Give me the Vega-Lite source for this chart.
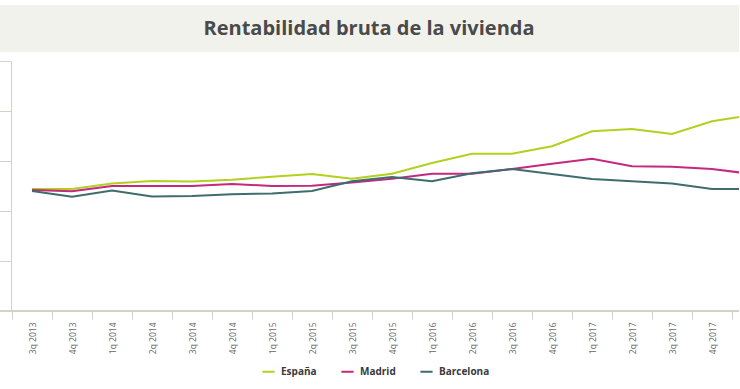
{
  "$schema": "https://vega.github.io/schema/vega-lite/v6.json",
  "background": "white",
  "padding": {"top": 5, "left": -5, "right": 0, "bottom": 0},
  "spacing": 8,
  "config": {"font": "Open Sans", "view": {"stroke": null}},
  "vconcat": [
    {
      "width": 740,
      "height": 47,
      "view": {"fill": "#f2f2ec", "stroke": null},
      "data": {"values": [{"title": "Rentabilidad bruta de la vivienda"}]},
      "mark": {"type": "text", "font": "Open Sans", "fontSize": 20, "fontWeight": "bold", "color": "#4a4a4a", "baseline": "middle", "align": "center"},
      "encoding": {"text": {"field": "title"}}
    },
    {
      "width": 740,
      "height": 250,
      "data": {"values": [
        {"quarter": "3q 2013", "region": "España", "value": 4.88},
        {"quarter": "4q 2013", "region": "España", "value": 4.88},
        {"quarter": "1q 2014", "region": "España", "value": 5.10},
        {"quarter": "2q 2014", "region": "España", "value": 5.20},
        {"quarter": "3q 2014", "region": "España", "value": 5.18},
        {"quarter": "4q 2014", "region": "España", "value": 5.25},
        {"quarter": "1q 2015", "region": "España", "value": 5.37},
        {"quarter": "2q 2015", "region": "España", "value": 5.48},
        {"quarter": "3q 2015", "region": "España", "value": 5.29},
        {"quarter": "4q 2015", "region": "España", "value": 5.49},
        {"quarter": "1q 2016", "region": "España", "value": 5.92},
        {"quarter": "2q 2016", "region": "España", "value": 6.29},
        {"quarter": "3q 2016", "region": "España", "value": 6.29},
        {"quarter": "4q 2016", "region": "España", "value": 6.59},
        {"quarter": "1q 2017", "region": "España", "value": 7.19},
        {"quarter": "2q 2017", "region": "España", "value": 7.28},
        {"quarter": "3q 2017", "region": "España", "value": 7.08},
        {"quarter": "4q 2017", "region": "España", "value": 7.59},
        {"quarter": "1q 2018", "region": "España", "value": 7.84},
        {"quarter": "3q 2013", "region": "Madrid", "value": 4.84},
        {"quarter": "4q 2013", "region": "Madrid", "value": 4.79},
        {"quarter": "1q 2014", "region": "Madrid", "value": 5.00},
        {"quarter": "2q 2014", "region": "Madrid", "value": 5.00},
        {"quarter": "3q 2014", "region": "Madrid", "value": 5.00},
        {"quarter": "4q 2014", "region": "Madrid", "value": 5.08},
        {"quarter": "1q 2015", "region": "Madrid", "value": 5.00},
        {"quarter": "2q 2015", "region": "Madrid", "value": 5.01},
        {"quarter": "3q 2015", "region": "Madrid", "value": 5.14},
        {"quarter": "4q 2015", "region": "Madrid", "value": 5.29},
        {"quarter": "1q 2016", "region": "Madrid", "value": 5.49},
        {"quarter": "2q 2016", "region": "Madrid", "value": 5.49},
        {"quarter": "3q 2016", "region": "Madrid", "value": 5.68},
        {"quarter": "4q 2016", "region": "Madrid", "value": 5.89},
        {"quarter": "1q 2017", "region": "Madrid", "value": 6.09},
        {"quarter": "2q 2017", "region": "Madrid", "value": 5.79},
        {"quarter": "3q 2017", "region": "Madrid", "value": 5.77},
        {"quarter": "4q 2017", "region": "Madrid", "value": 5.68},
        {"quarter": "1q 2018", "region": "Madrid", "value": 5.48},
        {"quarter": "3q 2013", "region": "Barcelona", "value": 4.80},
        {"quarter": "4q 2013", "region": "Barcelona", "value": 4.57},
        {"quarter": "1q 2014", "region": "Barcelona", "value": 4.82},
        {"quarter": "2q 2014", "region": "Barcelona", "value": 4.58},
        {"quarter": "3q 2014", "region": "Barcelona", "value": 4.60},
        {"quarter": "4q 2014", "region": "Barcelona", "value": 4.67},
        {"quarter": "1q 2015", "region": "Barcelona", "value": 4.70},
        {"quarter": "2q 2015", "region": "Barcelona", "value": 4.80},
        {"quarter": "3q 2015", "region": "Barcelona", "value": 5.19},
        {"quarter": "4q 2015", "region": "Barcelona", "value": 5.36},
        {"quarter": "1q 2016", "region": "Barcelona", "value": 5.19},
        {"quarter": "2q 2016", "region": "Barcelona", "value": 5.51},
        {"quarter": "3q 2016", "region": "Barcelona", "value": 5.68},
        {"quarter": "4q 2016", "region": "Barcelona", "value": 5.48},
        {"quarter": "1q 2017", "region": "Barcelona", "value": 5.28},
        {"quarter": "2q 2017", "region": "Barcelona", "value": 5.19},
        {"quarter": "3q 2017", "region": "Barcelona", "value": 5.10},
        {"quarter": "4q 2017", "region": "Barcelona", "value": 4.88},
        {"quarter": "1q 2018", "region": "Barcelona", "value": 4.88}
      ]},
      "layer": [
        {
          "mark": {"type": "rule", "color": "#d3d2c6", "strokeWidth": 1},
          "encoding": {"y": {"datum": 0, "type": "quantitative"}}
        },
        {
          "mark": {"type": "line", "strokeWidth": 2, "clip": true},
          "encoding": {
            "x": {
              "field": "quarter", "type": "ordinal", "sort": null, "bandPosition": 0.5,
              "scale": {"type": "band", "range": [13, 773], "paddingInner": 0, "paddingOuter": 0},
              "axis": {
                "values": ["3q 2013","4q 2013","1q 2014","2q 2014","3q 2014","4q 2014","1q 2015","2q 2015","3q 2015","4q 2015","1q 2016","2q 2016","3q 2016","4q 2016","1q 2017","2q 2017","3q 2017","4q 2017"],
                "tickBand": "extent", "labelAngle": -90, "tickSize": 8, "domain": false,
                "labelPadding": 3, "labelFontSize": 8.5, "labelColor": "#666666", "labelFont": "Open Sans",
                "tickColor": "#d3d2c6", "title": null, "grid": false
              }
            },
            "y": {
              "field": "value", "type": "quantitative",
              "scale": {"domain": [0, 10], "nice": false, "zero": false},
              "axis": {"values": [0, 2, 4, 6, 8, 10], "labels": false, "grid": false, "tickSize": 12, "offset": -12,
                "labelPadding": 0, "minExtent": 0, "maxExtent": 12,
                "domainColor": "#d3d2c6", "tickColor": "#d3d2c6", "title": null}
            },
            "color": {
              "field": "region", "type": "nominal",
              "scale": {"domain": ["España", "Madrid", "Barcelona"], "range": ["#b5cf1f", "#c2297f", "#3f6c6e"]},
              "legend": {
                "orient": "none", "legendX": 262, "legendY": 359, "direction": "horizontal", "title": null,
                "symbolType": "stroke", "symbolStrokeWidth": 2, "symbolSize": 150,
                "labelFont": "Open Sans", "labelFontWeight": "bold", "labelFontSize": 10, "labelColor": "#3a3a3a",
                "columnPadding": 20, "labelOffset": 5
              }
            }
          }
        }
      ]
    }
  ]
}
